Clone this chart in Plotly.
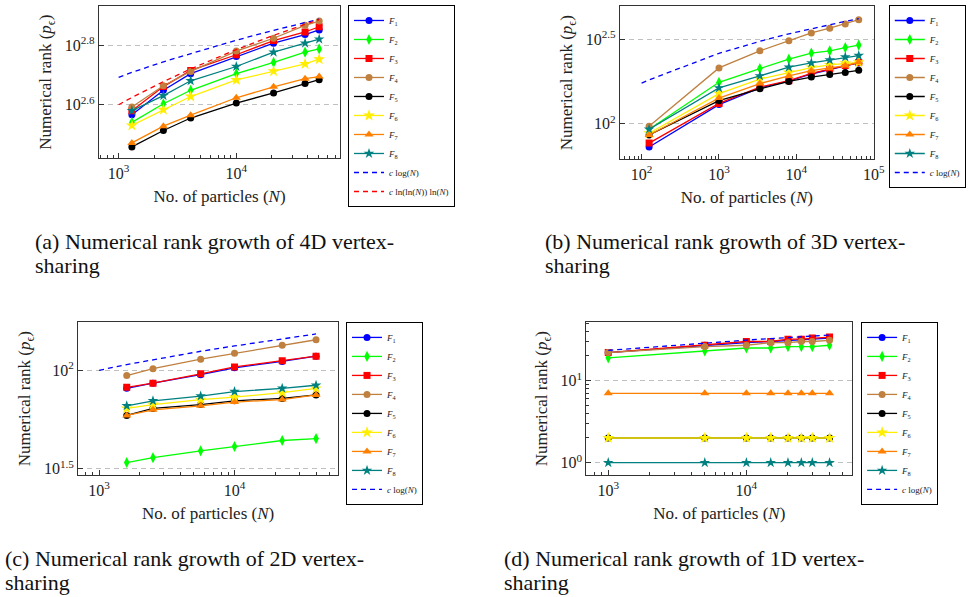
import plotly.graph_objects as go

# ---------------- data ----------------
# (a) 4D vertex-sharing
N_4D = [1296, 2401, 4096, 10000, 20736, 38416, 50625]
F1_4D = [368, 445, 506, 578, 641, 685, 710]
F2_4D = [347, 401, 445, 506, 552, 598, 613]
F3_4D = [380, 458, 519, 586, 654, 699, 728]
F4_4D = [391, 461, 515, 603, 666, 736, 761]
F5_4D = [287, 326, 359, 403, 436, 469, 483]
F6_4D = [339, 383, 424, 482, 516, 546, 566]
F7_4D = [296, 337, 367, 420, 457, 487, 495]
F8_4D = [380, 427, 479, 535, 598, 641, 661]
NREF_4D = [1000, 1296, 2401, 4096, 10000, 20736, 38416, 50625]
CLOG_4D = [492, 511, 555, 592, 656, 708, 752, 772]
CLNLN_4D = [398, 421, 476, 525, 610, 681, 742, 769]

# (b) 3D vertex-sharing
N_3D = [125, 1000, 3375, 8000, 15625, 27000, 42875, 64000]
F1_3D = [73, 130, 163, 179, 197, 208, 220, 229]
F2_3D = [93, 176, 212, 241, 262, 270, 282, 292]
F3_3D = [77, 132, 165, 180, 199, 211, 221, 230]
F4_3D = [97, 214, 270, 310, 344, 367, 389, 412]
F5_3D = [86, 137, 161, 178, 189, 196, 201, 207]
F6_3D = [88, 151, 184, 201, 215, 223, 228, 231]
F7_3D = [86, 142, 173, 192, 206, 213, 221, 231]
F8_3D = [93, 163, 192, 216, 229, 238, 248, 253]
NREF_3D = [100, 125, 1000, 3375, 8000, 15625, 27000, 42875, 64000]
CLOG_3D = [174, 182, 261, 307, 340, 365, 386, 403, 418]

# (c) 2D vertex-sharing
N_2D = [1600, 2500, 5625, 10000, 22500, 40000]
F1_2D = [81, 86, 95, 103, 111, 118]
F2_2D = [34, 36, 39, 41, 44, 45]
F3_2D = [82, 86, 96, 104, 112, 118]
F4_2D = [94, 102, 114, 122, 134, 143]
F5_2D = [59, 64, 67, 70, 72, 75]
F6_2D = [64, 67, 71, 73, 77, 81]
F7_2D = [59, 63, 66, 69, 71, 75]
F8_2D = [66, 70, 74, 78, 81, 84]
NREF_2D = [1000, 1600, 2500, 5625, 10000, 22500, 40000]
CLOG_2D = [100, 107, 113, 125, 133, 145, 153]

# (d) 1D vertex-sharing
N_1D = [1000, 5000, 10000, 15000, 20000, 25000, 30000, 40000]
F1_1D = [22, 27, 29, 30, 31, 32, 32, 33]
F2_1D = [19, 23, 25, 25, 26, 26, 26, 27]
F3_1D = [22, 27, 30, 30, 32, 32, 33, 34]
F4_1D = [22, 26, 27, 29, 29, 30, 30, 31]
F5_1D = [2, 2, 2, 2, 2, 2, 2, 2]
F6_1D = [2, 2, 2, 2, 2, 2, 2, 2]
F7_1D = [7, 7, 7, 7, 7, 7, 7, 7]
F8_1D = [1, 1, 1, 1, 1, 1, 1, 1]
NREF_1D = N_1D
CLOG_1D = [23.4, 28.9, 31.2, 32.6, 33.6, 34.3, 34.9, 35.9]

SERIES_NAMES = ["<i>F</i><sub>%d</sub>" % i for i in range(1, 9)]
CLOG_NAME = "<i>c</i> log(<i>N</i>)"
CLNLN_NAME = "<i>c</i> ln(ln(<i>N</i>)) ln(<i>N</i>)"
CAPTIONS = [
    ("(a) Numerical rank growth of 4D vertex-", "sharing"),
    ("(b) Numerical rank growth of 3D vertex-", "sharing"),
    ("(c) Numerical rank growth of 2D vertex-", "sharing"),
    ("(d) Numerical rank growth of 1D vertex-", "sharing"),
]
XTITLE = "No. of particles (<i>N</i>)"
YTITLE = "Numerical rank (<i>p</i><sub>ϵ</sub>)"

# ---------------- styles ----------------
FONT = "Liberation Serif"
W, H = 968, 597
STYLES = [
    dict(color="#0000FF", symbol="circle", size=7),
    dict(color="#00FF00", symbol="diamond-tall", size=8),
    dict(color="#FF0000", symbol="square", size=7),
    dict(color="#BF8040", symbol="circle", size=7),
    dict(color="#000000", symbol="circle", size=7),
    dict(color="#FFEE00", symbol="star", size=9),
    dict(color="#FF8000", symbol="triangle-up", size=8),
    dict(color="#008080", symbol="star", size=8),
]


def px_x(p):
    return p / W


def px_y(p):
    return 1 - p / H


def minor_vals(lo, hi):
    return [d * 10 ** e for e in range(lo, hi) for d in range(2, 10)]


panels = [
    dict(N=N_4D, F=[F1_4D, F2_4D, F3_4D, F4_4D, F5_4D, F6_4D, F7_4D, F8_4D],
         refs=[(NREF_4D, CLOG_4D, "#0000FF", CLOG_NAME), (NREF_4D, CLNLN_4D, "#FF0000", CLNLN_NAME)],
         box=(100, 344, 6, 159), xr=[2.832, 4.882], yr=[2.419, 2.932],
         xt=[1e2, 1e3, 1e4, 1e5], xtt=["10<sup>2</sup>", "10<sup>3</sup>", "10<sup>4</sup>", "10<sup>5</sup>"],
         yt=[10 ** 2.6, 10 ** 2.8], ytt=["10<sup>2.6</sup>", "10<sup>2.8</sup>"], yminor=False,
         leg=(352, 5)),
    dict(N=N_3D, F=[F1_3D, F2_3D, F3_3D, F4_3D, F5_3D, F6_3D, F7_3D, F8_3D],
         refs=[(NREF_3D, CLOG_3D, "#0000FF", CLOG_NAME)],
         box=(627, 884, 6, 160), xr=[1.719, 5.003], yr=[1.79, 2.696],
         xt=[1e2, 1e3, 1e4, 1e5], xtt=["10<sup>2</sup>", "10<sup>3</sup>", "10<sup>4</sup>", "10<sup>5</sup>"],
         yt=[10 ** 2, 10 ** 2.5], ytt=["10<sup>2</sup>", "10<sup>2.5</sup>"], yminor=False,
         leg=(899, 5)),
    dict(N=N_2D, F=[F1_2D, F2_2D, F3_2D, F4_2D, F5_2D, F6_2D, F7_2D, F8_2D],
         refs=[(NREF_2D, CLOG_2D, "#0000FF", CLOG_NAME)],
         box=(79, 342, 323, 477), xr=[2.845, 4.765], yr=[1.466, 2.246],
         xt=[1e3, 1e4], xtt=["10<sup>3</sup>", "10<sup>4</sup>"],
         yt=[10 ** 1.5, 10 ** 2], ytt=["10<sup>1.5</sup>", "10<sup>2</sup>"], yminor=False,
         leg=(350, 323)),
    dict(N=N_1D, F=[F1_1D, F2_1D, F3_1D, F4_1D, F5_1D, F6_1D, F7_1D, F8_1D],
         refs=[(NREF_1D, CLOG_1D, "#0000FF", CLOG_NAME)],
         box=(593, 862, 323, 477), xr=[2.841, 4.766], yr=[-0.155, 1.716],
         xt=[1e3, 1e4], xtt=["10<sup>3</sup>", "10<sup>4</sup>"],
         yt=[1, 10], ytt=["10<sup>0</sup>", "10<sup>1</sup>"], yminor=True,
         leg=(871, 323)),
]

fig = go.Figure()
layout = {}
for k, p in enumerate(panels):
    sfx = "" if k == 0 else str(k + 1)
    xa, ya = "x" + sfx, "y" + sfx
    lg = "legend" + sfx
    for i, (vals, st) in enumerate(zip(p["F"], STYLES)):
        fig.add_trace(go.Scatter(
            x=p["N"], y=vals, xaxis=xa, yaxis=ya, legend=lg,
            name=SERIES_NAMES[i], mode="lines+markers",
            line=dict(color=st["color"], width=1.3),
            marker=dict(color=st["color"], symbol=st["symbol"], size=st["size"], line=dict(width=0)),
        ))
    for (nx, vy, col, nm) in p["refs"]:
        fig.add_trace(go.Scatter(
            x=nx, y=vy, xaxis=xa, yaxis=ya, legend=lg, name=nm, mode="lines",
            line=dict(color=col, width=1.3, dash="5px,4px"),
        ))
    x0, x1, y0, y1 = p["box"]
    axis_common = dict(
        type="log", showline=True, linecolor="#333333", linewidth=1, mirror=True,
        ticks="inside", ticklen=5, tickcolor="#333333", zeroline=False,
        tickfont=dict(family=FONT, size=16, color="#222"),
    )
    layout["xaxis" + sfx] = dict(
        axis_common, domain=[px_x(x0), px_x(x1)], anchor=ya, range=p["xr"],
        tickmode="array", tickvals=p["xt"], ticktext=p["xtt"], showgrid=False,
        minor=dict(tickmode="array", tickvals=minor_vals(1, 5), ticks="inside", ticklen=3,
                   tickcolor="#333333", showgrid=False),
        title=dict(text=XTITLE, font=dict(family=FONT, size=17, color="#222"), standoff=9),
    )
    ydict = dict(
        axis_common, domain=[px_y(y1), px_y(y0)], anchor=xa, range=p["yr"],
        tickmode="array", tickvals=p["yt"], ticktext=p["ytt"],
        showgrid=True, gridcolor="#C0C0C0", griddash="5px,4px", gridwidth=1,
        title=dict(text=YTITLE, font=dict(family=FONT, size=17, color="#222"), standoff=8),
    )
    if p["yminor"]:
        ydict["minor"] = dict(tickmode="array", tickvals=minor_vals(0, 2), ticks="inside", ticklen=3,
                              tickcolor="#333333", showgrid=False)
    layout["yaxis" + sfx] = ydict
    lx, ly = p["leg"]
    layout[lg] = dict(
        x=px_x(lx), y=px_y(ly), xanchor="left", yanchor="top",
        bgcolor="white", bordercolor="black", borderwidth=1,
        font=dict(family=FONT, size=9, color="#222"), itemwidth=30, tracegroupgap=0,
    )

cap_pos = [(33, 242), (549, 242), (3, 560), (508, 560)]
annotations = []
for (cx, cy), (l1, l2) in zip(cap_pos, CAPTIONS):
    annotations.append(dict(x=px_x(cx), y=px_y(cy), xref="paper", yref="paper", text=l1,
                            showarrow=False, xanchor="left", yanchor="middle",
                            font=dict(family=FONT, size=22, color="#111")))
    annotations.append(dict(x=px_x(cx), y=px_y(cy + 24), xref="paper", yref="paper", text=l2,
                            showarrow=False, xanchor="left", yanchor="middle",
                            font=dict(family=FONT, size=22, color="#111")))

fig.update_layout(
    width=W, height=H, margin=dict(l=0, r=0, t=0, b=0),
    paper_bgcolor="white", plot_bgcolor="white",
    annotations=annotations, **layout,
)
fig.write_html("out.html")
